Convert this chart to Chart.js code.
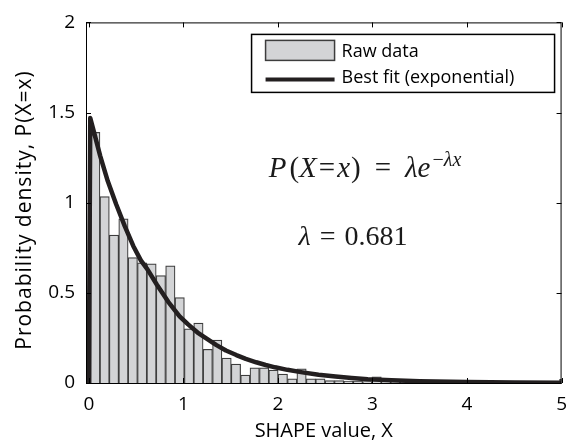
<!DOCTYPE html>
<html>
<head>
<meta charset="utf-8">
<script src="https://cdn.jsdelivr.net/npm/chart.js@4"></script>
<style>
  html, body { margin: 0; padding: 0; background: #fff; }
</style>
</head>
<body>
<canvas id="chart" width="577" height="443"></canvas>
<script>
// histogram bins (centres) and their probability density
const binCenters = [
  0.068, 0.167, 0.266, 0.366, 0.465, 0.564, 0.663, 0.762, 0.862, 0.961,
  1.060, 1.159, 1.258, 1.358, 1.457, 1.556, 1.655, 1.754, 1.854, 1.953,
  2.052, 2.151, 2.250, 2.350, 2.449, 2.548, 2.647, 2.746, 2.846, 2.945,
  3.044, 3.143, 3.242, 3.342, 3.441, 3.540, 3.639, 3.738, 3.838, 3.937,
  4.036, 4.135, 4.234, 4.334, 4.433, 4.532, 4.631, 4.730, 4.830, 4.929,
  5.028
];
const density = [
  1.39, 1.034, 0.82, 0.91, 0.695, 0.666, 0.661, 0.596, 0.65, 0.474,
  0.30, 0.332, 0.187, 0.238, 0.138, 0.105, 0.044, 0.084, 0.084, 0.072,
  0.049, 0.023, 0.078, 0.023, 0.023, 0.013, 0.013, 0.01, 0.01, 0.008,
  0.034, 0.012, 0.008, 0.01, 0.006, 0.005, 0.007, 0.004, 0.003, 0.005,
  0.002, 0.003, 0.002, 0.001, 0.002, 0.001, 0.001, 0.002, 0.001, 0.001,
  0.02
];

// fitted exponential curve
const fitX = [0, 0.015, 0.06, 0.12, 0.2, 0.29, 0.38, 0.47, 0.55, 0.62, 0.72, 0.84, 0.96, 1.05, 1.15,
  1.25, 1.35, 1.45, 1.56, 1.66, 1.77, 1.87, 1.97, 2.1, 2.26, 2.43, 2.61, 2.78, 2.95, 3.2, 3.5, 4.0, 4.5, 5.0];
const fitY = [0, 1.47, 1.38, 1.26, 1.12, 0.99, 0.87, 0.76, 0.68, 0.63, 0.545, 0.45, 0.37, 0.325, 0.28,
  0.245, 0.21, 0.18, 0.155, 0.134, 0.115, 0.1, 0.087, 0.073, 0.059, 0.046, 0.036, 0.028, 0.021, 0.015, 0.01, 0.005, 0.003, 0.002];

const xTicks = [0, 1, 2, 3, 4, 5];
const yTicks = [0, 0.5, 1, 1.5, 2];
const lambdaText = '0.681';

const FONT = "'Open Sans', sans-serif";
const MATH = "'Liberation Serif', serif";
const barFill = '#d3d4d6';
const barEdge = '#3d3d3d';
const lineColor = '#231f20';

Chart.defaults.font.family = FONT;
Chart.defaults.color = '#000';

// box around the axes with inward tick marks on all four sides
const framePlugin = {
  id: 'frame',
  afterDraw(chart) {
    const { ctx, chartArea: a, scales: { x, y } } = chart;
    ctx.save();
    ctx.strokeStyle = '#000';
    ctx.lineWidth = 1;
    ctx.strokeRect(a.left + 0.5, a.top + 0.5, a.right - a.left - 1, a.bottom - a.top);
    ctx.beginPath();
    xTicks.forEach(v => {
      const px = Math.round(x.getPixelForValue(v)) + 0.5;
      ctx.moveTo(px, a.bottom); ctx.lineTo(px, a.bottom - 5);
      ctx.moveTo(px, a.top); ctx.lineTo(px, a.top + 5);
    });
    yTicks.forEach(v => {
      const py = Math.round(y.getPixelForValue(v)) + 0.5;
      ctx.moveTo(a.left, py); ctx.lineTo(a.left + 5, py);
      ctx.moveTo(a.right, py); ctx.lineTo(a.right - 5, py);
    });
    ctx.stroke();

    // y axis title, a little letter-spaced
    ctx.save();
    ctx.translate(25, 210);
    ctx.rotate(-Math.PI / 2);
    ctx.font = '21px ' + FONT;
    ctx.letterSpacing = '1px';
    ctx.fillStyle = '#000';
    ctx.textAlign = 'center';
    ctx.textBaseline = 'middle';
    ctx.fillText('Probability density, P(X=x)', 0, 0);
    ctx.restore();

    ctx.restore();
  }
};

// draw a run of math text pieces centred on cx
function drawMath(ctx, pieces, cx, baseline) {
  const fontOf = p => (p.it ? 'italic ' : '') + p.size + 'px ' + MATH;
  let total = 0;
  pieces.forEach(p => { ctx.font = fontOf(p); total += ctx.measureText(p.t).width + (p.gap || 0); });
  let x = cx - total / 2;
  pieces.forEach(p => {
    ctx.font = fontOf(p);
    ctx.fillText(p.t, x, baseline - (p.rise || 0));
    x += ctx.measureText(p.t).width + (p.gap || 0);
  });
}

const notePlugin = {
  id: 'notes',
  afterDraw(chart) {
    const { ctx, chartArea: a } = chart;
    ctx.save();

    // legend box in the upper right
    const lx = a.right - 310, ly = a.top + 12, lw = 303, lh = 58;
    ctx.fillStyle = '#fff';
    ctx.fillRect(lx, ly, lw, lh);
    ctx.strokeStyle = '#000';
    ctx.lineWidth = 1.5;
    ctx.strokeRect(lx, ly, lw, lh);

    ctx.fillStyle = barFill;
    ctx.fillRect(lx + 14, ly + 6, 69, 20);
    ctx.strokeStyle = barEdge;
    ctx.lineWidth = 1.5;
    ctx.strokeRect(lx + 14, ly + 6, 69, 20);

    ctx.strokeStyle = lineColor;
    ctx.lineWidth = 4;
    ctx.beginPath();
    ctx.moveTo(lx + 14, ly + 45);
    ctx.lineTo(lx + 83, ly + 45);
    ctx.stroke();

    ctx.fillStyle = '#000';
    ctx.font = '18px ' + FONT;
    ctx.textBaseline = 'middle';
    ctx.fillText('Raw data', lx + 90, ly + 17);
    ctx.fillText('Best fit (exponential)', lx + 90, ly + 43);

    // formula and fitted rate
    ctx.fillStyle = '#1a1a1a';
    ctx.textBaseline = 'alphabetic';
    const s = 29, ss = 20;
    drawMath(ctx, [
      { t: 'P', it: true, size: s, gap: 3 },
      { t: '(', size: s },
      { t: 'X', it: true, size: s, gap: 2 },
      { t: '=', size: s, gap: 2 },
      { t: 'x', it: true, size: s, gap: 1 },
      { t: ')', size: s, gap: 14 },
      { t: '=', size: s, gap: 14 },
      { t: 'λ', it: true, size: s },
      { t: 'e', it: true, size: s, gap: 2 },
      { t: '−', size: ss, rise: 11 },
      { t: 'λx', it: true, size: ss, rise: 11 }
    ], 365, 177);
    drawMath(ctx, [
      { t: 'λ', it: true, size: 28, gap: 9 },
      { t: '=', size: 28, gap: 9 },
      { t: lambdaText, size: 28 }
    ], 353, 245);

    ctx.restore();
  }
};

const chartConfig = {
  type: 'bar',
  data: {
    datasets: [
      {
        type: 'line',
        label: 'Best fit (exponential)',
        data: fitX.map((x, i) => ({ x, y: fitY[i] })),
        borderColor: lineColor,
        borderWidth: 4.5,
        borderJoinStyle: 'round',
        pointRadius: 0,
        fill: false,
        tension: 0,
        order: 0
      },
      {
        type: 'bar',
        label: 'Raw data',
        data: binCenters.map((x, i) => ({ x, y: density[i] })),
        backgroundColor: barFill,
        borderColor: barEdge,
        borderWidth: 1.2,
        barPercentage: 1,
        categoryPercentage: 1,
        clip: 0,
        order: 1
      }
    ]
  },
  options: {
    responsive: false,
    animation: false,
    devicePixelRatio: 1,
    layout: { padding: { top: 15, right: 3.5, left: 0, bottom: 0 } },
    plugins: { legend: { display: false }, tooltip: { enabled: false } },
    scales: {
      x: {
        type: 'linear',
        min: -0.03,
        max: 5,
        offset: false,
        grid: { display: false, drawTicks: false },
        border: { display: false },
        ticks: { stepSize: 1, includeBounds: false, autoSkip: false, maxRotation: 0, padding: 10, font: { size: 19 } },
        title: { display: true, text: 'SHAPE value, X', font: { size: 20 }, padding: { top: 0, bottom: 0 } },
        afterFit: scale => { scale.height = 60; }
      },
      y: {
        min: 0,
        max: 2,
        grid: { display: false, drawTicks: false },
        border: { display: false },
        ticks: { stepSize: 0.5, padding: 11, font: { size: 19 }, callback: v => String(v) },
        afterFit: scale => { scale.width = 86; }
      }
    }
  },
  plugins: [framePlugin, notePlugin]
};

const myChart = new Chart(document.getElementById('chart'), chartConfig);
</script>
</body>
</html>
